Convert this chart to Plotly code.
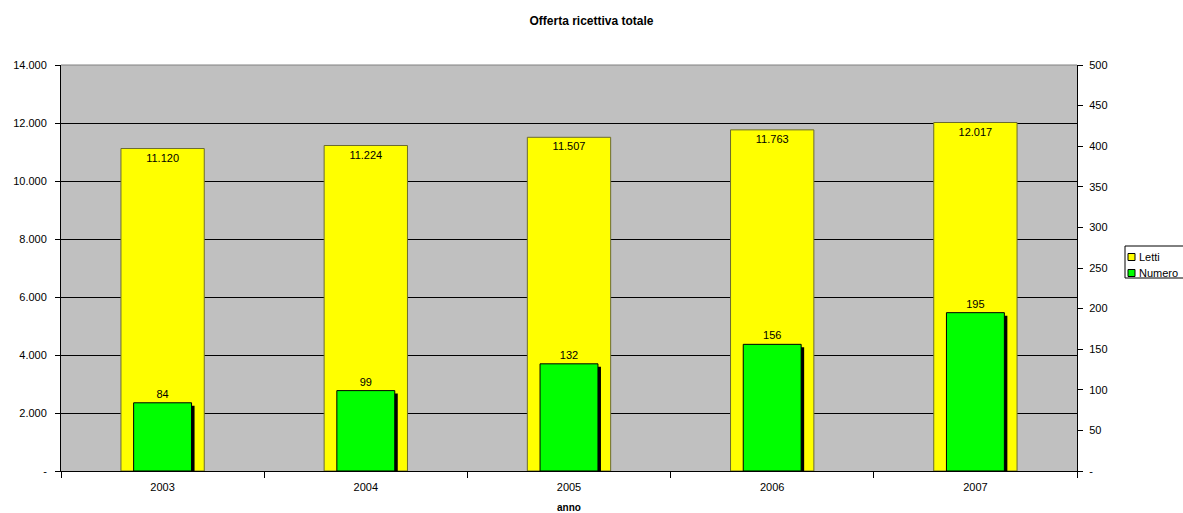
import plotly.graph_objects as go

anni = ["2003", "2004", "2005", "2006", "2007"]
letti = [11120, 11224, 11507, 11763, 12017]
numero = [84, 99, 132, 156, 195]
left_ticks = [0, 2000, 4000, 6000, 8000, 10000, 12000, 14000]
right_ticks = [0, 50, 100, 150, 200, 250, 300, 350, 400, 450, 500]
legend_names = ["Letti", "Numero"]
legend_colors = ["#FFFF00", "#00FF00"]

def fmt(v):
    return "-" if v == 0 else f"{v:,}".replace(",", ".")

font = "Liberation Sans, Arial, sans-serif"
L, R, T, B = 61, 106, 65, 42
PW = 1183 - L - R
PH = 513 - T - B
W_Y = 0.41
W_G = 0.285
px = 1.0 / (PW / 5.0)     # one pixel in category units
ypx = 500.0 / PH          # one pixel in right-axis units

fig = go.Figure()
fig.add_trace(go.Bar(
    x=anni, y=letti, name="Letti", yaxis="y", width=W_Y,
    marker=dict(color="#FFFF00", line=dict(color="#6B6B30", width=1)),
    text=[fmt(v) for v in letti], textposition="inside", insidetextanchor="end",
    textfont=dict(family=font, size=11, color="black"), textangle=0,
    cliponaxis=False, showlegend=False,
))
# shadow for the green bars
fig.add_trace(go.Bar(
    x=anni, y=[v - 3 * ypx for v in numero], yaxis="y2", width=W_G,
    offset=-W_G / 2 + 3 * px, showlegend=False, hoverinfo="skip",
    marker=dict(color="black", line=dict(width=0)),
))
fig.add_trace(go.Bar(
    x=anni, y=numero, name="Numero", yaxis="y2", width=W_G,
    offset=-W_G / 2,
    marker=dict(color="#00FF00", line=dict(color="black", width=1)),
    text=[str(v) for v in numero], textposition="outside",
    textfont=dict(family=font, size=11, color="black"), textangle=0,
    cliponaxis=False, showlegend=False,
))

fig.update_layout(
    width=1183, height=513,
    barmode="overlay",
    plot_bgcolor="#C0C0C0", paper_bgcolor="white",
    margin=dict(l=L, r=R, t=T, b=B, autoexpand=False),
    font=dict(family=font, size=11, color="black"),
    title=dict(text="<b>Offerta ricettiva totale</b>", x=0.5, xanchor="center",
               y=0.96, yanchor="middle", font=dict(family=font, size=12)),
    xaxis=dict(type="category", tickson="boundaries", ticks="outside", ticklen=6,
               tickcolor="black", showline=True, linecolor="black", linewidth=1,
               showgrid=False, mirror=False, ticklabelstandoff=6,
               title=dict(text="<b>anno</b>", standoff=11, font=dict(size=10)),
               tickfont=dict(size=11)),
    yaxis=dict(range=[0, 14000], tickvals=left_ticks, ticktext=[fmt(v) for v in left_ticks],
               ticks="outside", ticklen=5, tickcolor="black", showline=True,
               linecolor="black", linewidth=1, showgrid=True, gridcolor="black",
               gridwidth=1, zeroline=False, tickfont=dict(size=11), ticklabelstandoff=6),
    yaxis2=dict(range=[0, 500], overlaying="y", side="right", tickvals=right_ticks,
                ticktext=[fmt(v) for v in right_ticks], ticks="outside", ticklen=5,
                tickcolor="black", showline=True, linecolor="black", linewidth=1,
                showgrid=False, zeroline=False, tickfont=dict(size=11), ticklabelstandoff=4),
    showlegend=False,
)
fig.add_shape(type="line", xref="paper", yref="paper", x0=0, x1=1, y0=1, y1=1,
              line=dict(color="#808080", width=1))

# hand-drawn legend box (clipped at the right edge as in the original)
def xp(pix):
    return (pix - L) / PW

def yp(pix):
    return (513 - B - pix) / PH

fig.add_shape(type="rect", xref="paper", yref="paper",
              x0=xp(1125), x1=xp(1200), y0=yp(278), y1=yp(246),
              line=dict(color="black", width=1), fillcolor="white", layer="above")
for i, (nm, col) in enumerate(zip(legend_names, legend_colors)):
    cy = 257 + i * 16
    fig.add_shape(type="rect", xref="paper", yref="paper",
                  x0=xp(1128), x1=xp(1135), y0=yp(cy + 3.5), y1=yp(cy - 3.5),
                  line=dict(color="black", width=1), fillcolor=col, layer="above")
    fig.add_annotation(xref="paper", yref="paper", x=xp(1137), y=yp(cy),
                       xanchor="left", yanchor="middle", showarrow=False,
                       text=nm, font=dict(family=font, size=11, color="black"))

fig.write_html("out.html")
